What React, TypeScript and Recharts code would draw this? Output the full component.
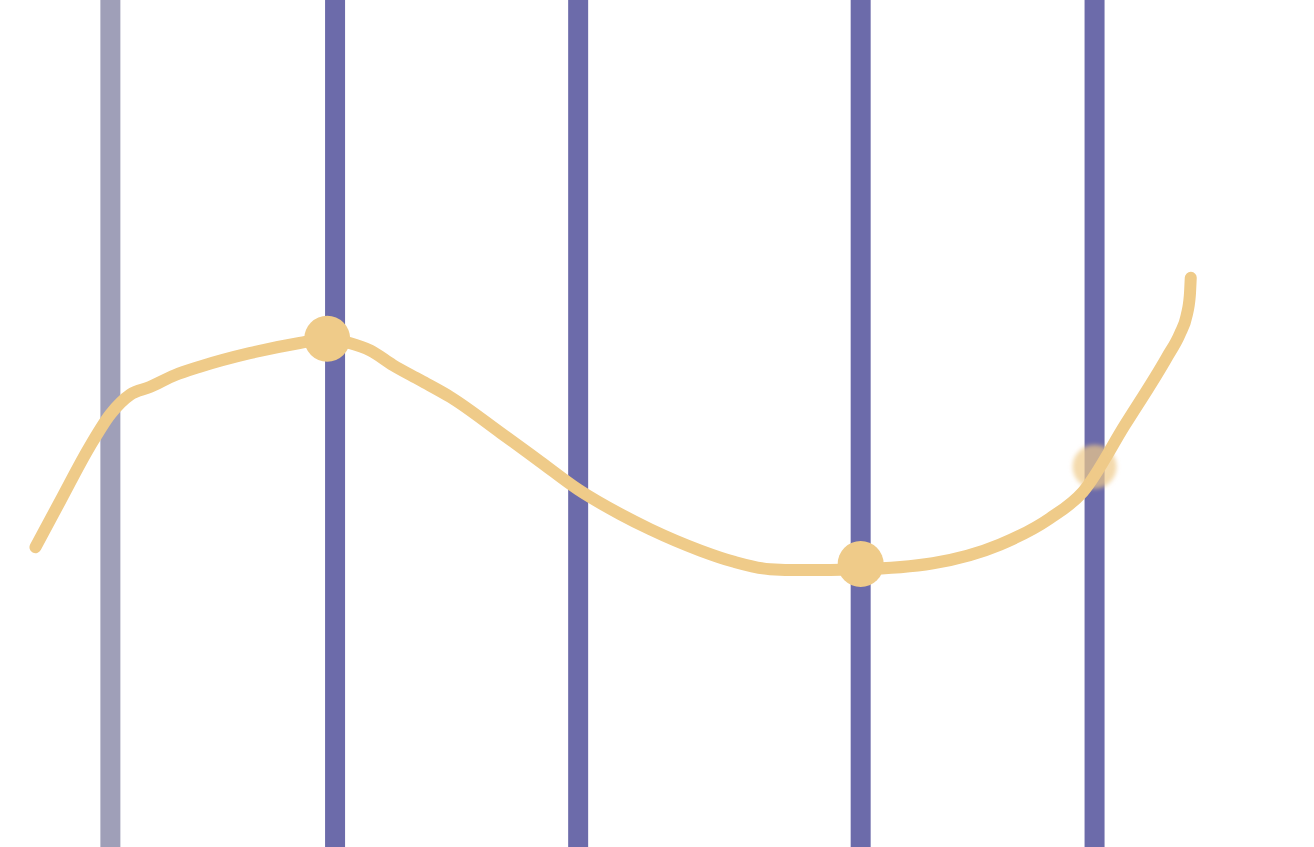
import { ComposedChart, Line, Scatter, XAxis, YAxis, ReferenceLine } from 'recharts';

// curve (x, y on a 0–100 scale)
const curveX = [2.7, 4.6, 6.8, 8.4, 9.9, 11.4, 13.3, 15.2, 19.0, 22.8, 24.9, 26.6, 28.2, 29.9, 32.0, 34.3, 38.1, 41.1, 44.0, 47.2, 49.5, 53.3, 55.8, 58.6, 60.9, 65.5, 71.0, 76.1, 79.9, 82.4, 85.6, 88.8, 89.8, 90.3, 90.55, 90.62];
const curveY = [35.4, 40.9, 47.2, 51.1, 53.4, 54.3, 55.7, 56.7, 58.3, 59.5, 60.0, 59.5, 58.6, 56.9, 55.1, 53.1, 48.9, 45.5, 42.2, 39.3, 37.5, 35.0, 33.7, 32.8, 32.7, 32.8, 33.5, 35.7, 38.8, 41.9, 49.8, 57.8, 60.6, 62.7, 65.1, 67.2];

// highlighted points on the curve
const markerX = [24.9, 65.5, 83.3];
const markerY = [60.0, 33.4, 44.9];
const markerFaded = [false, false, true];

// vertical stripes
const stripeX = [8.4, 25.5, 44.0, 65.5, 83.3];
const stripeColors = ['#9f9fb8', '#6c6baa', '#6c6baa', '#6c6baa', '#6c6baa'];

const curveData = curveX.map((x, i) => ({ x, y: curveY[i] }));
const markerData = markerX.map((x, i) => ({ x, y: markerY[i], faded: markerFaded[i] }));

const LINE_COLOR = '#efcb89';

function MarkerShape(props: any) {
  const { cx, cy, payload } = props;
  if (payload?.faded) {
    return (
      <g>
        <defs>
          <filter id="markerBlur" x="-50%" y="-50%" width="200%" height="200%">
            <feGaussianBlur stdDeviation="2" />
          </filter>
        </defs>
        <circle cx={cx} cy={cy} r={22} fill={LINE_COLOR} fillOpacity={0.7} filter="url(#markerBlur)" />
      </g>
    );
  }
  return <circle cx={cx} cy={cy} r={23} fill={LINE_COLOR} />;
}

export default function App() {
  return (
    <div style={{ position: 'absolute', left: 0, top: 0, background: '#fff' }}>
      <ComposedChart width={1314} height={847} margin={{ top: 0, right: 0, bottom: 0, left: 0 }}>
        <XAxis type="number" dataKey="x" domain={[0, 100]} hide allowDataOverflow />
        <YAxis type="number" dataKey="y" domain={[0, 100]} hide allowDataOverflow />
        {stripeX.map((x, i) => (
          <ReferenceLine key={i} x={x} stroke={stripeColors[i]} strokeWidth={20} />
        ))}
        <Line
          data={curveData}
          dataKey="y"
          type="monotone"
          stroke={LINE_COLOR}
          strokeWidth={12}
          strokeLinecap="round"
          strokeLinejoin="round"
          dot={false}
          activeDot={false}
          isAnimationActive={false}
        />
        <Scatter data={markerData} dataKey="y" shape={MarkerShape} isAnimationActive={false} />
      </ComposedChart>
    </div>
  );
}
